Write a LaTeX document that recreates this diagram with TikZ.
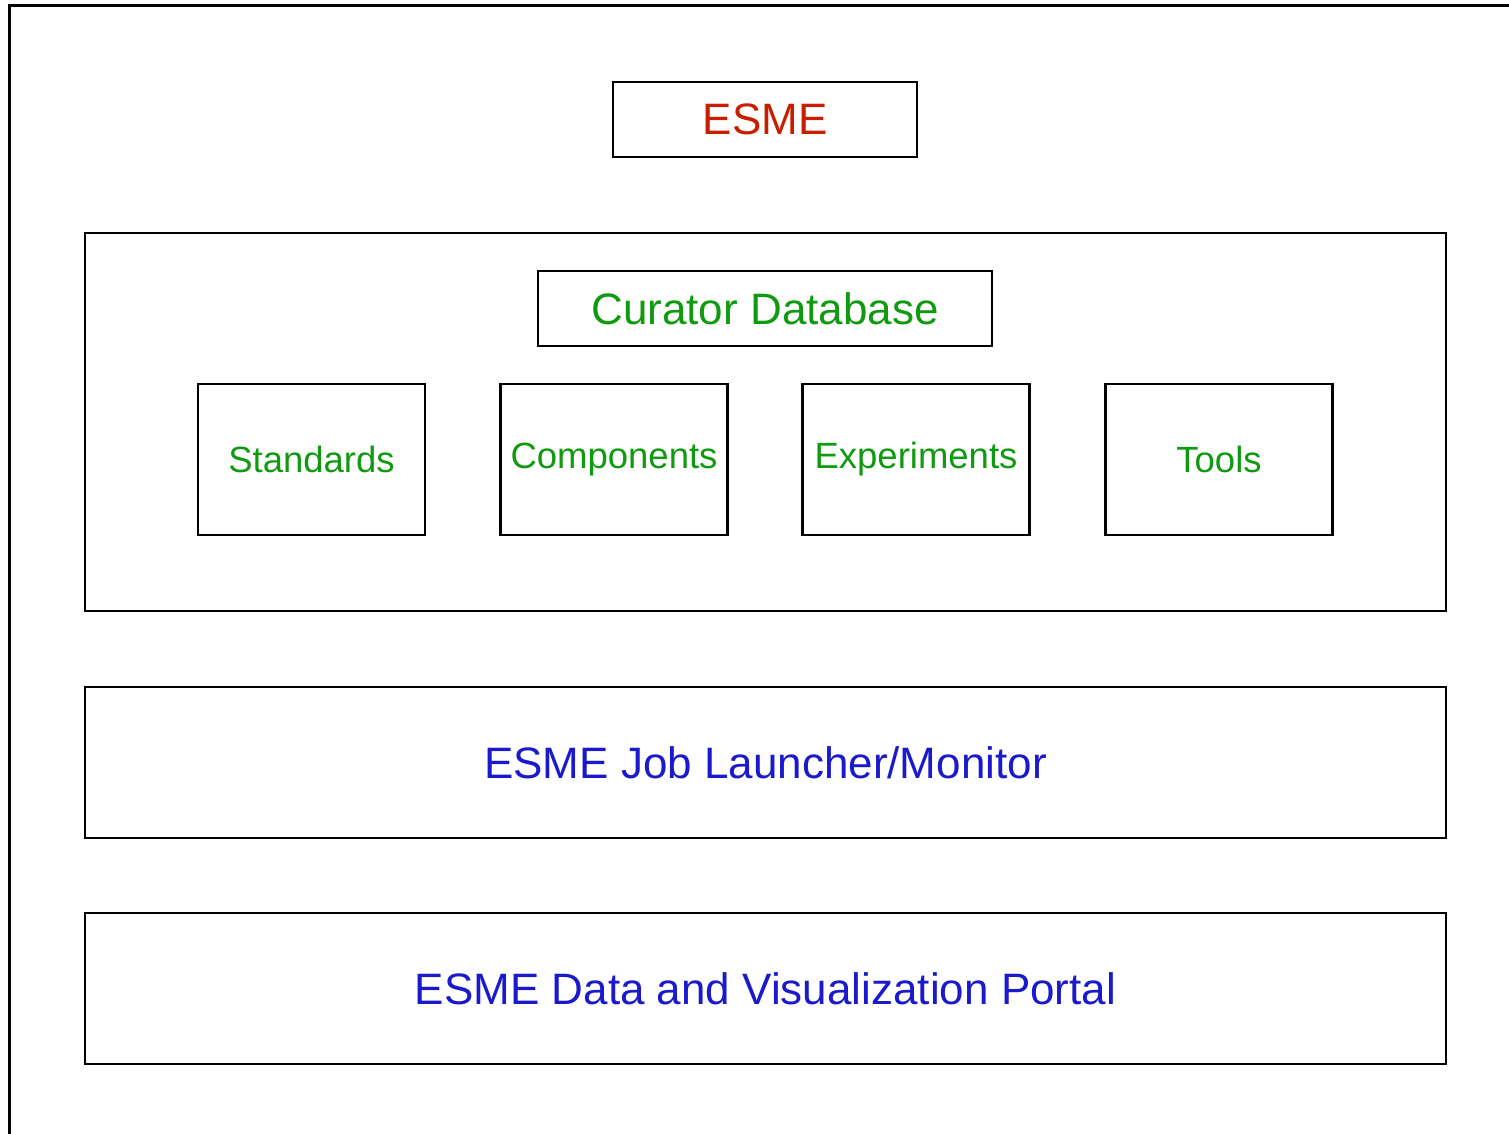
\documentclass[tikz,border=0pt]{standalone}
\usepackage{fontspec}
\setmainfont{Liberation Sans}
\definecolor{esmered}{RGB}{200,30,0}
\definecolor{esmegreen}{RGB}{16,154,16}
\definecolor{esmeblue}{RGB}{26,26,204}
\tikzset{
    box/.style={draw, line width=2.5pt, inner sep=0pt, outer sep=0pt},
    bigtext/.style={font=\fontsize{44}{52}\selectfont},
    smalltext/.style={font=\fontsize{36.5}{44}\selectfont}
}
\begin{document}
\begin{tikzpicture}[x=1pt, y=-1pt]
        \useasboundingbox (0,0) rectangle (1509,1134);

        % frame
        \draw[line width=3pt] (9,1134) -- (9,6) -- (1509,6);

        \node[box, bigtext, text=esmered, minimum width=304, minimum height=75] (esme) at (765,119.5) {ESME};

        \node[box, minimum width=1361, minimum height=378] (curator) at (765.5,422) {};
        \node[box, bigtext, text=esmegreen, minimum width=454, minimum height=75] (db) at (765,308.5) {Curator Database};
        \foreach \x/\n/\t in {311.5/std/Standards, 614/comp/Components, 916/exp/Experiments, 1219/tools/Tools}
            \node[box, smalltext, text=esmegreen, minimum width=227, minimum height=151] (\n) at (\x,459.5) {\t};

        \node[box, bigtext, text=esmeblue, minimum width=1361, minimum height=151] (launcher) at (765.5,762.5) {ESME Job Launcher/Monitor};
        \node[box, bigtext, text=esmeblue, minimum width=1361, minimum height=151] (portal) at (765.5,988.5) {ESME Data and Visualization Portal};
\end{tikzpicture}
\end{document}
